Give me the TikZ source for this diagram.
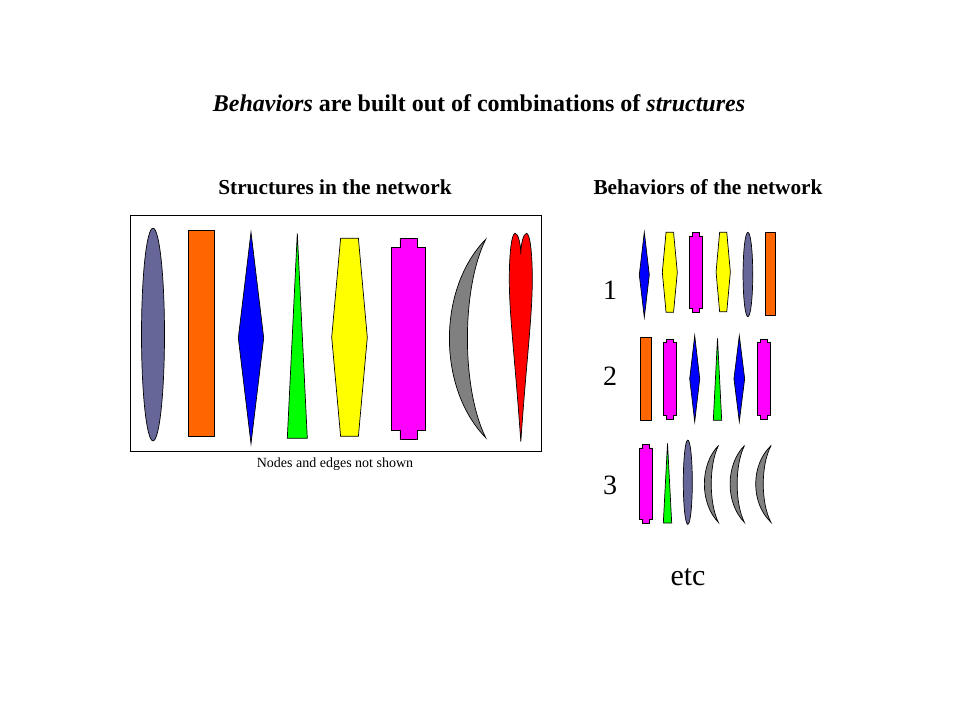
\documentclass[tikz,border=0pt]{standalone}
\usepackage{fontspec}
\setmainfont{Liberation Serif}
\usepackage{tikz}
\usetikzlibrary{positioning, calc}
\usepackage{xcolor}

\definecolor{slate}{HTML}{666699}
\definecolor{orng}{HTML}{FF6600}
\definecolor{blu}{HTML}{0000FF}
\definecolor{grn}{HTML}{00FF00}
\definecolor{yel}{HTML}{FFFF00}
\definecolor{mag}{HTML}{FF00FF}
\definecolor{gry}{HTML}{808080}
\definecolor{rd}{HTML}{FF0000}

\begin{document}
\begin{tikzpicture}[x=1pt, y=-1pt, line width=0.7pt,
    shp/.style={draw=black},
    oval/.pic={\draw[shp, fill=slate] (0,0) ellipse [x radius=0.5, y radius=0.5];},
    bar/.pic={\draw[shp, fill=orng] (-0.5,-0.5) rectangle (0.5,0.5);},
    kite/.pic={\draw[shp, fill=blu] (0,-0.5) -- (0.5,0) -- (0,0.5) -- (-0.5,0) -- cycle;},
    spike/.pic={\draw[shp, fill=grn] (0,-0.5) -- (0.5,0.5) -- (-0.5,0.5) -- cycle;},
    hexa/.pic={\draw[shp, fill=yel] (-0.25,-0.5) -- (0.25,-0.5) -- (0.5,0) -- (0.25,0.5) -- (-0.25,0.5) -- (-0.5,0) -- cycle;},
    plug/.pic={\draw[shp, fill=mag] (-0.25,-0.5) -- (0.25,-0.5) -- (0.25,-0.455) -- (0.5,-0.455) -- (0.5,0.455) -- (0.25,0.455) -- (0.25,0.5) -- (-0.25,0.5) -- (-0.25,0.455) -- (-0.5,0.455) -- (-0.5,-0.455) -- (-0.25,-0.455) -- cycle;},
    moon/.pic={\draw[shp, fill=gry] (0.5,-0.5) .. controls (-0.83,-0.25) and (-0.83,0.25) .. (0.5,0.5) .. controls (-0.17,0.25) and (-0.17,-0.25) .. cycle;},
    heart/.pic={\draw[shp, fill=rd] (0,0.5) .. controls (-0.25,0.1) and (-0.5,-0.1) .. (-0.5,-0.28) .. controls (-0.5,-0.42) and (-0.38,-0.5) .. (-0.25,-0.5) .. controls (-0.12,-0.5) and (0,-0.45) .. (0,-0.4) .. controls (0,-0.45) and (0.12,-0.5) .. (0.25,-0.5) .. controls (0.38,-0.5) and (0.5,-0.42) .. (0.5,-0.28) .. controls (0.5,-0.1) and (0.25,0.1) .. (0,0.5) -- cycle;}]
  \useasboundingbox (0,0) rectangle (960,720);

  % headings
  \node[font=\bfseries\fontsize{24}{28}\selectfont] (title) at (479,103) {\textit{Behaviors} are built out of combinations of \textit{structures}};
  \node[font=\bfseries\fontsize{21.3}{25}\selectfont] (lefthead) at (335,187) {Structures in the network};
  \node[font=\bfseries\fontsize{21.3}{25}\selectfont] (righthead) at (708,187) {Behaviors of the network};

  % structures
  \draw[line width=0.8pt] (130,215) rectangle (541,451);
  \node[font=\fontsize{14}{16}\selectfont] (note) at (335,464) {Nodes and edges not shown};
  \pic[xscale=23, yscale=212.7] at (153,334.5) {oval};
  \pic[xscale=26, yscale=206] at (201.3,333.3) {bar};
  \pic[xscale=25.4, yscale=211.4] at (251,338) {kite};
  \pic[xscale=20, yscale=205] at (297.3,335.8) {spike};
  \pic[xscale=35.6, yscale=198] at (349.5,337.3) {hexa};
  \pic[xscale=34.4, yscale=201] at (408.5,338.8) {plug};
  \pic[xscale=36.4, yscale=198.4] at (467.5,338.5) {moon};
  \pic[xscale=23, yscale=208.4] at (520.8,337.5) {heart};

  % behaviors
  \node[font=\fontsize{28}{32}\selectfont] (one) at (610,290) {1};
  \node[font=\fontsize{28}{32}\selectfont] (two) at (610,376) {2};
  \node[font=\fontsize{28}{32}\selectfont] (three) at (610,485) {3};
  \node[font=\fontsize{30}{34}\selectfont] (etc) at (688,577) {etc};

  \pic[xscale=10, yscale=85] at (644.3,274.8) {kite};
  \pic[xscale=15, yscale=80] at (669.8,272.3) {hexa};
  \pic[xscale=13, yscale=80] at (695.8,272.3) {plug};
  \pic[xscale=14.3, yscale=79.4] at (723.2,272) {hexa};
  \pic[xscale=9.7, yscale=84.4] at (747.9,274.5) {oval};
  \pic[xscale=10.4, yscale=83] at (770.5,273.8) {bar};

  \pic[xscale=11.7, yscale=83.3] at (645.8,378.7) {bar};
  \pic[xscale=13.4, yscale=80] at (670,379) {plug};
  \pic[xscale=10, yscale=86] at (694.7,378.7) {kite};
  \pic[xscale=8.4, yscale=82] at (717.5,379.3) {spike};
  \pic[xscale=10.7, yscale=86] at (739.3,378.7) {kite};
  \pic[xscale=13.4, yscale=80] at (764,379) {plug};

  \pic[xscale=13.4, yscale=78.7] at (646,483.7) {plug};
  \pic[xscale=8.4, yscale=79.7] at (667.5,483.2) {spike};
  \pic[xscale=9, yscale=84.3] at (687.8,482.2) {oval};
  \pic[xscale=14, yscale=76.6] at (711.3,484) {moon};
  \pic[xscale=14.3, yscale=76.6] at (737.2,484) {moon};
  \pic[xscale=15.3, yscale=76.6] at (763.3,484) {moon};
\end{tikzpicture}
\end{document}
